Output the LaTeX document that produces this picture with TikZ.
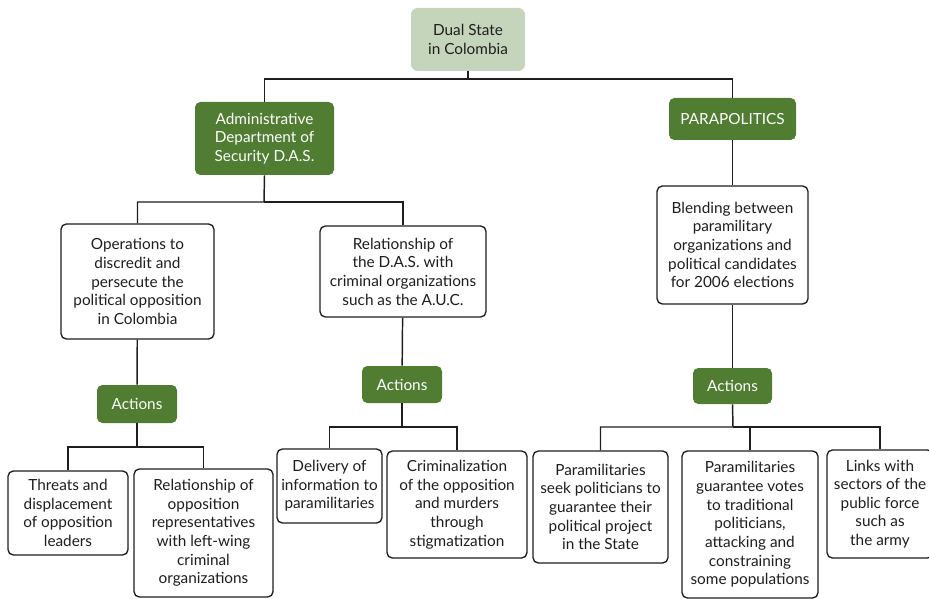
\documentclass[tikz,border=0pt]{standalone}
\usepackage{fontspec}
\setmainfont{Lato}
\definecolor{sage}{HTML}{C5D5BC}
\definecolor{leafgreen}{HTML}{507D32}
\definecolor{ink}{HTML}{1E1E1E}

\begin{document}
\begin{tikzpicture}[x=0.75pt,y=-0.75pt,
    dims/.style 2 args={minimum width=#1*0.75pt,minimum height=#2*0.75pt},
    every node/.style={font=\fontsize{11.5}{14}\selectfont,align=center,inner sep=0pt,text=ink},
    rootbox/.style={fill=sage,rounded corners=5pt},
    head/.style={fill=leafgreen,rounded corners=4pt,text=white},
    leaf/.style={draw=ink,line width=1pt,fill=white,rounded corners=4pt},
    link/.style={draw=ink,line width=1.1pt}]
    \useasboundingbox (0,0) rectangle (929,599);
    \clip (0,0) rectangle (929,599);

    % top level
    \node[rootbox,dims={114}{63}] (root) at (468,39.5) {Dual State\\in Colombia};
    \node[head,dims={139}{73}] (das) at (264.5,138.5) {Administrative\\Department of\\Security D.A.S.};
    \node[head,dims={127}{42}] (para) at (732.5,119) {PARAPOLITICS};

    % second level
    \node[leaf,dims={153}{115}] (ops) at (137.5,281.5) {Operations to\\discredit and\\persecute the\\political opposition\\in Colombia};
    \node[leaf,dims={166}{91}] (rel) at (403,271.5) {Relationship of\\the D.A.S. with\\criminal organizations\\such as the A.U.C.};
    \node[leaf,dims={151}{118}] (blend) at (732.5,245) {Blending between\\paramilitary\\organizations and\\political candidates\\for 2006 elections};

    % actions
    \node[head,dims={80}{38}] (act1) at (137,404) {Actions};
    \node[head,dims={80}{37}] (act2) at (402,384.5) {Actions};
    \node[head,dims={79}{36}] (act3) at (732.5,386) {Actions};

    % leaves
    \node[leaf,dims={120}{84}] (threats) at (68,513) {Threats and\\displacement\\of opposition\\leaders};
    \node[leaf,dims={139}{128}] (relopp) at (203.5,533) {Relationship of\\opposition\\representatives\\with left-wing\\criminal\\organizations};
    \node[leaf,dims={105}{74}] (deliv) at (329.5,486) {Delivery of\\information to\\paramilitaries};
    \node[leaf,dims={140}{107}] (crim) at (457,504.5) {Criminalization\\of the opposition\\and murders\\through\\stigmatization};
    \node[leaf,dims={135}{112}] (seek) at (600.5,507) {Paramilitaries\\seek politicians to\\guarantee their\\political project\\in the State};
    \node[leaf,dims={136}{147}] (guar) at (750,524.5) {Paramilitaries\\guarantee votes\\to traditional\\politicians,\\attacking and\\constraining\\some populations};
    \node[leaf,dims={106}{108}] (links) at (880,504) {Links with\\sectors of the\\public force\\such as\\the army};

    % bus points
    \coordinate (b0) at (468,79);
    \coordinate (b1) at (264,202);
    \coordinate (b2) at (137,447);
    \coordinate (b3) at (402,427);
    \coordinate (b4) at (733,427);

    % connectors
    \draw[link] (root.south) -- (b0) -| (das.north);
    \draw[link] (b0) -| (para.north);
    \draw[link] (das.south) -- (b1) -| (ops.north);
    \draw[link] (b1) -| (rel.north);
    \draw[link] (para) -- (blend);
    \draw[link] (ops) -- (act1);
    \draw[link] (rel) -- (act2);
    \draw[link] (blend) -- (act3);
    \draw[link] (act1.south) -- (b2) -| (threats.north);
    \draw[link] (b2) -| (relopp.north);
    \draw[link] (act2.south) -- (b3) -| (deliv.north);
    \draw[link] (b3) -| (crim.north);
    \draw[link] (act3.south) -- (b4) -| (seek.north);
    \draw[link] (b4) -| (guar.north);
    \draw[link] (b4) -| (links.north);
\end{tikzpicture}
\end{document}
